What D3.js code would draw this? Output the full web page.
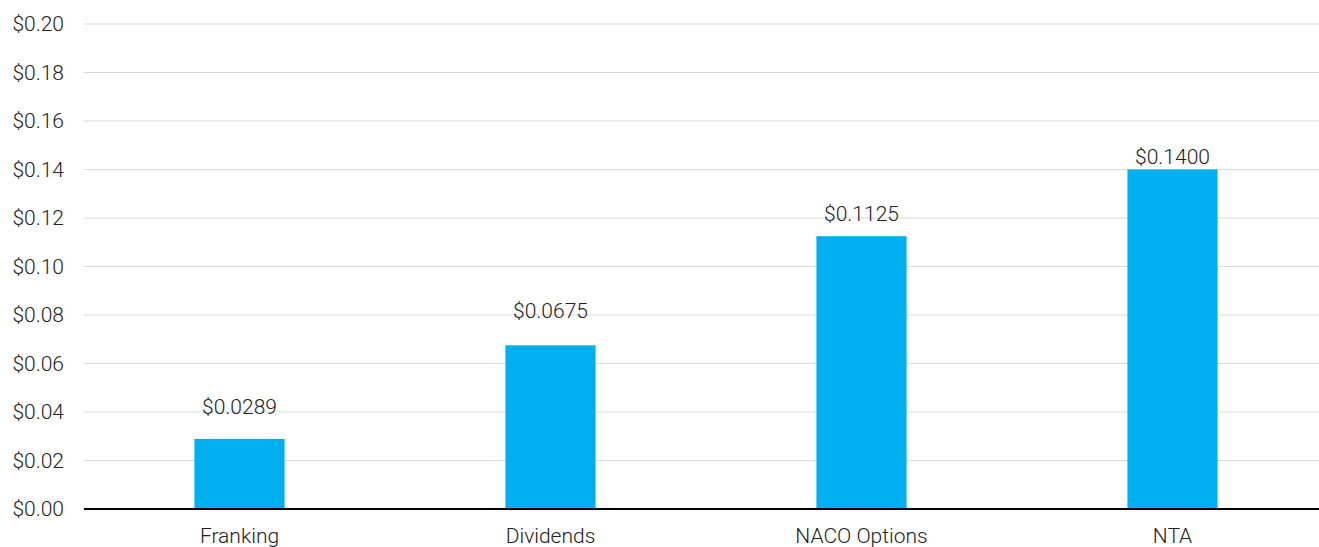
<!DOCTYPE html>
<html>
<head>
<meta charset="utf-8">
<script src="https://cdn.jsdelivr.net/npm/d3@7"></script>
<style>
  body { margin: 0; background: #fff; }
  text { font-family: Roboto, "Liberation Sans", sans-serif; font-weight: 300; fill: #222; }
</style>
</head>
<body>
<div id="chart"></div>
<script>
// data
const categories = ["Franking", "Dividends", "NACO Options", "NTA"];
const values = [0.0289, 0.0675, 0.1125, 0.1400];
const yTicks = [0, 0.02, 0.04, 0.06, 0.08, 0.10, 0.12, 0.14, 0.16, 0.18, 0.20];

// label gap above each bar (the source chart doesn't keep it constant)
const labelGap = [25, 27, 15, 6];

const width = 1319;
const height = 547;
const fontSize = "21px";

const svg = d3.select("#chart")
  .append("svg")
  .attr("width", width)
  .attr("height", height);

const x = d3.scaleBand()
  .domain(categories)
  .range([84, 1328])
  .paddingInner(0.71)
  .paddingOuter(0.355);

const y = d3.scaleLinear()
  .domain([0, 0.20])
  .range([509, 24]);

// gridlines
svg.append("g")
  .selectAll("line")
  .data(yTicks.slice(1))
  .enter()
  .append("line")
  .attr("x1", 84)
  .attr("x2", width)
  .attr("y1", d => y(d))
  .attr("y2", d => y(d))
  .style("stroke", "#d9d9d9")
  .style("stroke-width", 1);

// y axis labels
const yAxis = svg.append("g")
  .attr("transform", "translate(84,0)")
  .call(d3.axisLeft(y).tickValues(yTicks).tickSize(0).tickPadding(20)
    .tickFormat(d => "$" + d3.format(".2f")(d)));
yAxis.select(".domain").remove();
yAxis.selectAll("text").style("font-size", fontSize).style("fill", "#222");

// bars
svg.append("g")
  .selectAll("rect")
  .data(values)
  .enter()
  .append("rect")
  .attr("x", (d, i) => x(categories[i]))
  .attr("width", x.bandwidth())
  .attr("y", d => y(d))
  .attr("height", d => y(0) - y(d))
  .style("fill", "#00b0f0");

// value labels
svg.append("g")
  .selectAll("text")
  .data(values)
  .enter()
  .append("text")
  .attr("x", (d, i) => x(categories[i]) + x.bandwidth() / 2)
  .attr("y", (d, i) => y(d) - labelGap[i])
  .attr("text-anchor", "middle")
  .style("font-size", fontSize)
  .text(d => "$" + d3.format(".4f")(d));

// x axis
const xAxis = svg.append("g")
  .attr("transform", "translate(0," + y(0) + ")")
  .call(d3.axisBottom(x).tickSize(0).tickPadding(19));
xAxis.select(".domain").remove();
xAxis.selectAll("text").style("font-size", fontSize).style("fill", "#222");

svg.append("line")
  .attr("x1", 84)
  .attr("x2", width)
  .attr("y1", y(0))
  .attr("y2", y(0))
  .style("stroke", "#000")
  .style("stroke-width", 2);
</script>
</body>
</html>
